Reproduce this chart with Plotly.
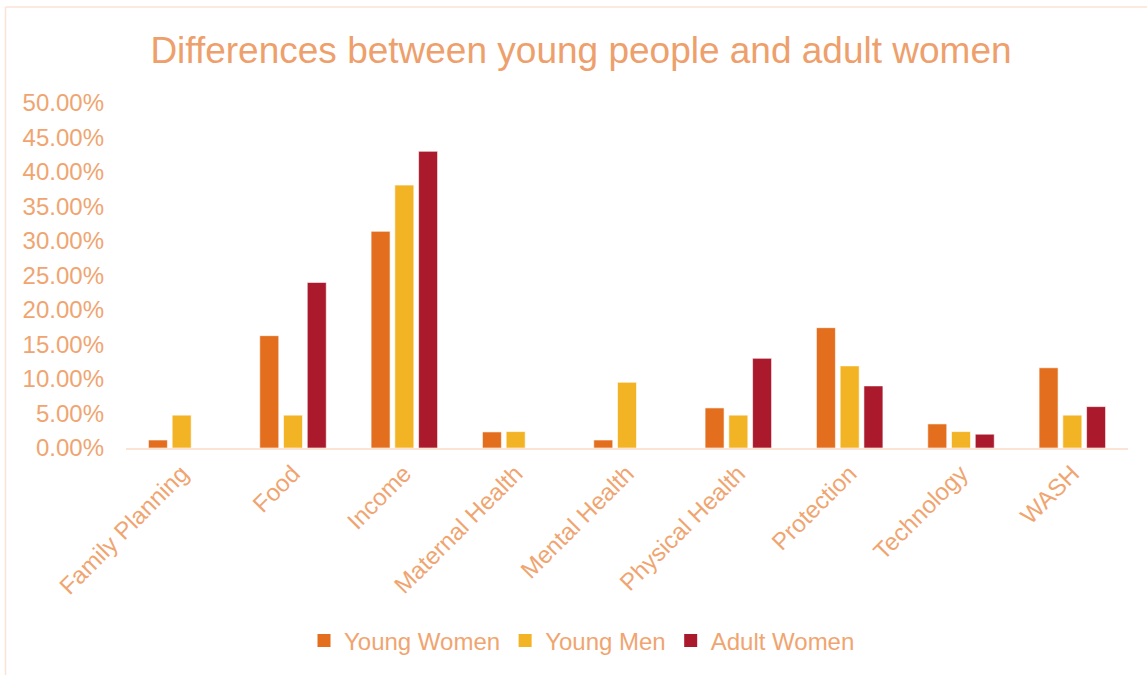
import plotly.graph_objects as go

categories = ["Family Planning", "Food", "Income", "Maternal Health", "Mental Health",
              "Physical Health", "Protection", "Technology", "WASH"]
young_women = [0.0116, 0.1628, 0.3140, 0.0233, 0.0116, 0.0581, 0.1744, 0.0349, 0.1163]
young_men = [0.0476, 0.0476, 0.3810, 0.0238, 0.0952, 0.0476, 0.1190, 0.0238, 0.0476]
adult_women = [None, 0.24, 0.43, None, None, 0.13, 0.09, 0.02, 0.06]

series = [("Young Women", young_women, "#E36F1E"),
          ("Young Men", young_men, "#F2B325"),
          ("Adult Women", adult_women, "#AA1A2C")]

TEXT = "#F0A571"
FONT = "Liberation Sans, Arial, sans-serif"

fig = go.Figure()
for name, vals, col in series:
    fig.add_trace(go.Bar(x=categories, y=vals, name=name, marker_color=col,
                         legendgroup=name, showlegend=False,
                         marker_line=dict(color="rgba(255,255,255,0.6)", width=1)))
for name, vals, col in series:
    fig.add_trace(go.Scatter(x=[None], y=[None], mode="markers", name=name,
                             legendgroup=name, showlegend=True,
                             marker=dict(symbol="square", size=13, color=col)))

W, H = 1147, 675
L, R, T, B = 126, 19, 103, 227
pw, ph = W - L - R, H - T - B

def px_x(x):
    return (x - L) / pw

def px_y(y):
    return 1 - (y - T) / ph

fig.update_layout(
    width=W, height=H,
    margin=dict(l=L, r=R, t=T, b=B),
    paper_bgcolor="white", plot_bgcolor="white",
    font=dict(family=FONT, color=TEXT, size=24),
    title=dict(text="Differences between young people and adult women",
               x=581 / W, xanchor="center", xref="container",
               y=1 - 50 / H, yanchor="middle", yref="container",
               font=dict(size=37, color="#EEA06C", family=FONT)),
    barmode="group", bargap=0.36, bargroupgap=0.2,
    legend=dict(orientation="h", x=582 / W, xanchor="center", xref="container",
                y=1 - 641 / H, yanchor="middle", yref="container",
                font=dict(size=24, color=TEXT), itemwidth=30, traceorder="normal"),
    showlegend=True,
)
fig.update_yaxes(range=[0, 0.5], dtick=0.05, tickformat=".2%", showgrid=False,
                 zeroline=False, showline=False, ticks="", tickfont=dict(size=24, color=TEXT),
                 ticklabelstandoff=21)
fig.update_xaxes(tickangle=-45, showline=True, linecolor="#FBE3D6", linewidth=2,
                 ticks="", tickfont=dict(size=24, color=TEXT), showgrid=False)

# outer chart border (left and top edges visible)
fig.add_shape(type="line", xref="paper", yref="paper",
              x0=px_x(5.5), x1=px_x(5.5), y0=px_y(7), y1=px_y(680),
              line=dict(color="#FBE3D6", width=1.5))
fig.add_shape(type="line", xref="paper", yref="paper",
              x0=px_x(5.5), x1=px_x(1150), y0=px_y(7), y1=px_y(7),
              line=dict(color="#FBE3D6", width=1.5))

fig.write_html("out.html")
